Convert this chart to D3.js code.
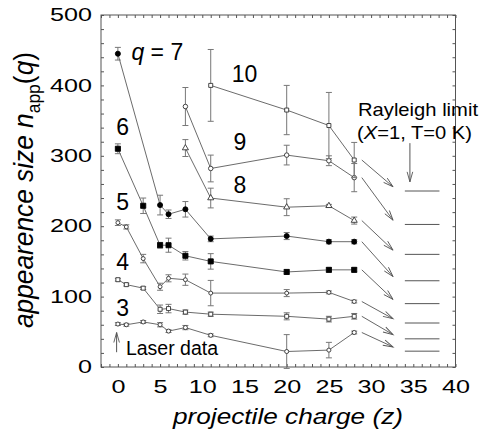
<!DOCTYPE html>
<html>
<head>
<meta charset="utf-8">
<script src="https://cdn.jsdelivr.net/npm/d3@7"></script>
<style>
  body { margin: 0; background: #fff; }
  svg { display: block; font-family: Arial, "Liberation Sans", sans-serif; }
</style>
</head>
<body>
<svg id="chart" width="481" height="441"></svg>
<script>
// ---- data (z = projectile charge, n = appearance size, e = error) ----
const q3Z = [0, 1, 3, 5, 6, 8, 11, 20, 25, 28];
const q3N = [61, 60, 64, 60, 51, 56, 45, 22, 24, 49];
const q3E = [2, 2, 2, 3, 2, 3, 2, 24, 11, 2];

const q4Z = [0, 1, 3, 5, 6, 8, 11, 20, 25, 28];
const q4N = [124, 117, 112, 82, 83, 78, 75, 72, 68, 72];
const q4E = [2, 2, 2, 6, 6, 3, 3, 5, 4, 4];

const q5Z = [0, 1, 3, 5, 6, 8, 11, 20, 25, 28];
const q5N = [205, 199, 154, 114, 126, 124, 105, 105, 106, 93];
const q5E = [4, 3, 6, 5, 5, 8, 18, 5, 2, 2];

const q6Z = [0, 3, 5, 6, 8, 11, 20, 25, 28];
const q6N = [310, 229, 173, 173, 158, 150, 135, 138, 138];
const q6E = [7, 11, 4, 10, 6, 11, 3, 3, 3];

const q7Z = [0, 5, 6, 8, 11, 20, 25, 28];
const q7N = [445, 230, 217, 224, 182, 186, 178, 178];
const q7E = [9, 14, 6, 11, 4, 5, 3, 3];

const q8Z = [8, 11, 20, 25, 28];
const q8N = [311, 240, 227, 229, 208];
const q8E = [12, 14, 12, 2, 5];

const q9Z = [8, 11, 20, 25, 28];
const q9N = [370, 282, 301, 293, 269];
const q9E = [27, 19, 14, 7, 20];

const q10Z = [11, 20, 25, 28];
const q10N = [400, 365, 343, 294];
const q10E = [51, 35, 47, 25];

// Rayleigh limit (X=1, T=0 K) for q = 3..10
const rayleighQ = [3, 4, 5, 6, 7, 8, 9, 10];
const rayleighN = [22.5, 40, 62.5, 90, 122.5, 160, 202.5, 250];

const xTicks = [0, 5, 10, 15, 20, 25, 30, 35, 40];
const yTicks = [0, 100, 200, 300, 400, 500];

// in-plot labels: text, z, n (baseline position in data units)
const seriesLabels = [
    {t: '6', z: -0.2, n: 330},
    {t: '5', z: -0.2, n: 223},
    {t: '4', z: -0.2, n: 138},
    {t: '3', z: -0.2, n: 72},
    {t: '10', z: 13.5, n: 405},
    {t: '9', z: 13.7, n: 308},
    {t: '8', z: 13.7, n: 247}
];

// table built from the arrays above
const series = [
    {q: 3, z: q3Z, n: q3N, e: q3E, shape: d3.symbolCircle, size: 13, fill: false},
    {q: 4, z: q4Z, n: q4N, e: q4E, shape: d3.symbolSquare, size: 16, fill: false},
    {q: 5, z: q5Z, n: q5N, e: q5E, shape: d3.symbolCircle, size: 12, fill: false},
    {q: 6, z: q6Z, n: q6N, e: q6E, shape: d3.symbolSquare, size: 26, fill: true},
    {q: 7, z: q7Z, n: q7N, e: q7E, shape: d3.symbolCircle, size: 20, fill: true},
    {q: 8, z: q8Z, n: q8N, e: q8E, shape: d3.symbolTriangle, size: 16, fill: false},
    {q: 9, z: q9Z, n: q9N, e: q9E, shape: d3.symbolCircle, size: 16, fill: false},
    {q: 10, z: q10Z, n: q10N, e: q10E, shape: d3.symbolSquare, size: 16, fill: false}
];

const svg = d3.select('#chart');
const x = d3.scaleLinear().domain([-2, 40]).range([101, 455.5]);
const y = d3.scaleLinear().domain([0, 500]).range([367, 15]);

const frameCol = '#555';
const lineCol = '#5a5a5a';
const barCol = '#777';

// arrowhead (open V)
svg.append('defs').append('marker')
    .attr('id', 'vhead')
    .attr('markerUnits', 'userSpaceOnUse')
    .attr('viewBox', '-12 -6 14 12')
    .attr('refX', 0).attr('refY', 0)
    .attr('markerWidth', 14).attr('markerHeight', 12)
    .attr('orient', 'auto')
    .append('path')
    .attr('d', 'M-10,-2.8 L0,0 L-10,2.8')
    .attr('fill', 'none')
    .attr('stroke', '#555')
    .attr('stroke-width', 0.9);

// ---- axes: inward minor ticks on all four sides ----
const xMinor = d3.range(-2, 41, 1);
const yMinor = d3.range(0, 501, 20);

function tickAxis(axis, tx, ty) {
    const g = svg.append('g').attr('transform', `translate(${tx},${ty})`).call(axis);
    g.select('.domain').remove();
    g.selectAll('line').attr('stroke', frameCol);
    return g;
}
tickAxis(d3.axisBottom(x).tickValues(xMinor).tickSize(-3).tickFormat(''), 0, y(0));
tickAxis(d3.axisTop(x).tickValues(xMinor).tickSize(-3).tickFormat(''), 0, y(500));
tickAxis(d3.axisLeft(y).tickValues(yMinor).tickSize(-3).tickFormat(''), x(-2), 0);
tickAxis(d3.axisRight(y).tickValues(yMinor).tickSize(-3).tickFormat(''), x(40), 0);

// tick labels (the original font is a wide sans, so stretch horizontally)
const xLab = svg.append('g').attr('transform', `translate(0,${y(0)})`)
    .call(d3.axisBottom(x).tickValues(xTicks).tickSize(0).tickPadding(13).tickFormat(d3.format('d')));
xLab.select('.domain').remove();
xLab.selectAll('text')
    .attr('font-size', 18).attr('fill', '#000')
    .attr('font-family', 'Arial, "Liberation Sans", sans-serif')
    .attr('transform', 'scale(1.4,1)');

const yLab = svg.append('g').attr('transform', `translate(${x(-2)},0)`)
    .call(d3.axisLeft(y).tickValues(yTicks).tickSize(0).tickPadding(6.4).tickFormat(d3.format('d')));
yLab.select('.domain').remove();
yLab.selectAll('text')
    .attr('font-size', 18).attr('fill', '#000')
    .attr('font-family', 'Arial, "Liberation Sans", sans-serif')
    .attr('transform', 'scale(1.4,1)');

// frame
svg.append('rect')
    .attr('x', x(-2)).attr('y', y(500))
    .attr('width', x(40) - x(-2)).attr('height', y(0) - y(500))
    .attr('fill', 'none').attr('stroke', frameCol).attr('stroke-width', 1);

// ---- series ----
const line = d3.line().x(d => x(d[0])).y(d => y(d[1]));

series.forEach(s => {
    const pts = s.z.map((z, i) => [z, s.n[i], s.e[i]]);
    const g = svg.append('g');

    g.append('path')
        .attr('d', line(pts))
        .attr('fill', 'none')
        .attr('stroke', lineCol)
        .attr('stroke-width', 0.9);

    // error bars
    const eb = g.selectAll('.eb').data(pts).enter().append('g');
    eb.append('line')
        .attr('x1', d => x(d[0])).attr('x2', d => x(d[0]))
        .attr('y1', d => y(d[1] - d[2])).attr('y2', d => y(d[1] + d[2]))
        .attr('stroke', barCol);
    eb.append('line')
        .attr('x1', d => x(d[0]) - 3).attr('x2', d => x(d[0]) + 3)
        .attr('y1', d => y(d[1] - d[2])).attr('y2', d => y(d[1] - d[2]))
        .attr('stroke', barCol);
    eb.append('line')
        .attr('x1', d => x(d[0]) - 3).attr('x2', d => x(d[0]) + 3)
        .attr('y1', d => y(d[1] + d[2])).attr('y2', d => y(d[1] + d[2]))
        .attr('stroke', barCol);

    g.selectAll('.pt').data(pts).enter().append('path')
        .attr('transform', d => `translate(${x(d[0])},${y(d[1])})`)
        .attr('d', d3.symbol().type(s.shape).size(s.size))
        .attr('fill', s.fill ? '#000' : '#fff')
        .attr('stroke', s.fill ? '#000' : '#333')
        .attr('stroke-width', 0.9);

    // arrow from last point towards its Rayleigh limit
    const last = pts[pts.length - 1];
    const rN = rayleighN[rayleighQ.indexOf(s.q)];
    svg.append('line')
        .attr('x1', x(last[0] + 0.9)).attr('y1', y(last[1]))
        .attr('x2', x(32.6)).attr('y2', y(rN + 6))
        .attr('stroke', '#555').attr('stroke-width', 0.9)
        .attr('marker-end', 'url(#vhead)');
});

// Rayleigh limit lines
svg.selectAll('.ray').data(rayleighN).enter().append('line')
    .attr('x1', x(34)).attr('x2', x(38.1))
    .attr('y1', d => y(d)).attr('y2', d => y(d))
    .attr('stroke', '#555').attr('stroke-width', 1);

// Rayleigh label + arrow
svg.append('text')
    .attr('x', 358).attr('y', 116)
    .attr('font-size', 19).attr('textLength', 120).attr('lengthAdjust', 'spacingAndGlyphs')
    .text('Rayleigh limit');
const rl = svg.append('text')
    .attr('x', 357).attr('y', 139)
    .attr('font-size', 19).attr('textLength', 115).attr('lengthAdjust', 'spacingAndGlyphs');
rl.append('tspan').text('(');
rl.append('tspan').attr('font-style', 'italic').text('X');
rl.append('tspan').text('=1, T=0 K)');
svg.append('line')
    .attr('x1', x(34.6)).attr('x2', x(34.6))
    .attr('y1', y(318)).attr('y2', y(263))
    .attr('stroke', '#555').attr('marker-end', 'url(#vhead)');

// Laser data label + arrow
svg.append('line')
    .attr('x1', x(-0.15)).attr('x2', x(-0.15))
    .attr('y1', y(21)).attr('y2', y(49))
    .attr('stroke', '#555').attr('marker-end', 'url(#vhead)');
svg.append('text')
    .attr('x', x(0.95)).attr('y', y(17))
    .attr('font-size', 19.5)
    .text('Laser data');

// series labels
svg.selectAll('.slab').data(seriesLabels).enter().append('text')
    .attr('x', d => x(d.z)).attr('y', d => y(d.n))
    .attr('font-size', 23)
    .text(d => d.t);
const q7 = svg.append('text')
    .attr('x', x(1.6)).attr('y', y(436))
    .attr('font-size', 23);
q7.append('tspan').attr('font-style', 'italic').text('q');
q7.append('tspan').text(' = 7');

// axis titles
svg.append('text')
    .attr('x', 288).attr('y', 423.5)
    .attr('text-anchor', 'middle')
    .attr('font-size', 22).attr('font-style', 'italic')
    .attr('textLength', 230).attr('lengthAdjust', 'spacingAndGlyphs')
    .text('projectile charge (z)');

const yt = svg.append('text')
    .attr('transform', 'translate(33,190) scale(1.35,1) rotate(-90)')
    .attr('text-anchor', 'middle')
    .attr('font-size', 21)
    .attr('textLength', 276).attr('lengthAdjust', 'spacingAndGlyphs');
yt.append('tspan').attr('font-style', 'italic').text('appearence size n');
yt.append('tspan').attr('font-size', 14).attr('dy', 5).text('app');
yt.append('tspan').attr('dy', -5).text('(');
yt.append('tspan').attr('font-style', 'italic').text('q');
yt.append('tspan').text(')');
</script>
</body>
</html>
